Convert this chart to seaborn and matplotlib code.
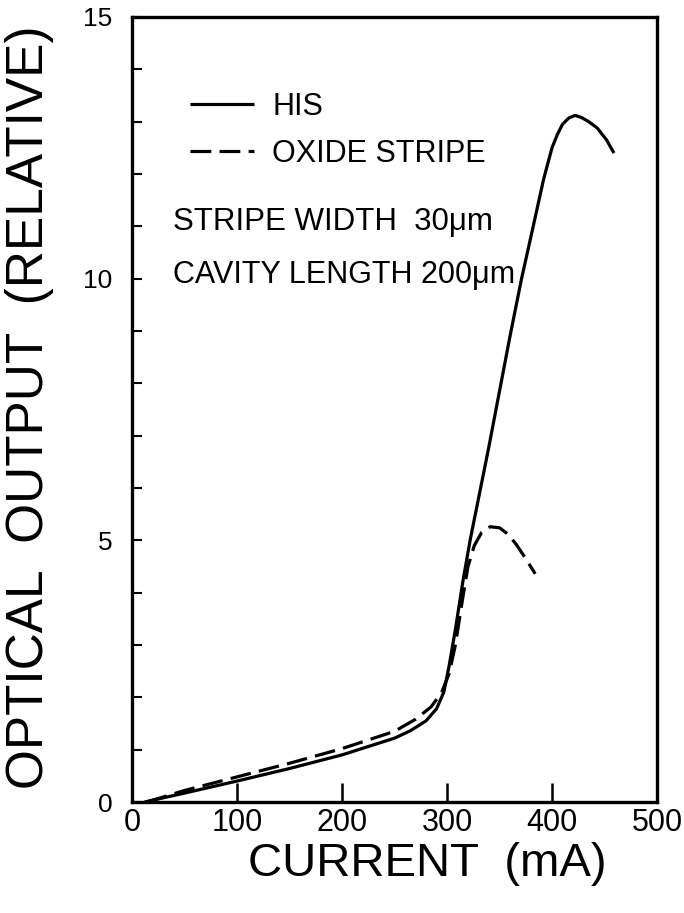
import numpy as np
import pandas as pd
import matplotlib
matplotlib.use("Agg")
import matplotlib.pyplot as plt
import seaborn as sns

# ---- data ----
his_current = [12, 50, 100, 150, 200, 250, 265, 280, 290, 297, 302, 308, 315, 322, 340, 360, 371, 381, 392, 400, 405, 410, 416, 422, 428, 435, 443, 452, 459]
his_output = [0.0, 0.17, 0.40, 0.64, 0.90, 1.22, 1.36, 1.55, 1.78, 2.1, 2.6, 3.3, 4.2, 5.0, 6.8, 8.9, 10.0, 10.9, 11.9, 12.5, 12.75, 12.95, 13.07, 13.12, 13.08, 13.0, 12.88, 12.65, 12.4]

oxide_current = [14, 50, 100, 150, 200, 250, 270, 285, 295, 302, 308, 315, 320, 326, 333, 341, 350, 358, 366, 375, 384]
oxide_output = [0.0, 0.22, 0.48, 0.74, 1.02, 1.35, 1.58, 1.82, 2.1, 2.45, 3.0, 3.9, 4.5, 4.9, 5.15, 5.26, 5.24, 5.12, 4.92, 4.65, 4.36]

series_names = ["HIS", "OXIDE STRIPE"]
x_ticks = [0, 100, 200, 300, 400, 500]
y_major = [0, 5, 10, 15]
y_minor = [0, 1, 2, 3, 4, 5, 6, 7, 8, 9, 10, 11, 12, 13, 14, 15]
x_label = "CURRENT  (mA)"
y_label = "OPTICAL  OUTPUT  (RELATIVE)"
notes = ["STRIPE WIDTH  30\u03bcm", "CAVITY LENGTH 200\u03bcm"]

df = pd.concat([
    pd.DataFrame({"current": his_current, "output": his_output, "type": series_names[0]}),
    pd.DataFrame({"current": oxide_current, "output": oxide_output, "type": series_names[1]}),
])

sns.set_theme(style="ticks")
plt.rcParams["font.family"] = ["Liberation Sans", "DejaVu Sans"]

W, H = 684, 913
fig = plt.figure(figsize=(W / 100, H / 100), dpi=100)
ax = fig.add_axes([132 / W, 1 - 802 / H, (657 - 132) / W, (802 - 17) / H])

sns.lineplot(data=df, x="current", y="output", hue="type", style="type",
             palette=["black", "black"], dashes=[(1, 0), (6.5, 2.6)],
             linewidth=2.3, sort=False, estimator=None, ax=ax, legend=True)
for ln in ax.lines:
    ln.set_solid_joinstyle("round")
    ln.set_dash_joinstyle("round")

ax.set_xlim(0, 500)
ax.set_ylim(0, 15)
ax.set_xticks(x_ticks)
ax.set_xticklabels([str(v) for v in x_ticks])
ax.set_yticks(y_minor)
ax.set_yticklabels([str(v) if v in y_major else "" for v in y_minor])
ax.tick_params(axis="x", direction="in", length=14, width=1.8, labelsize=22, pad=4, colors="black")
ax.tick_params(axis="y", direction="in", length=7, width=1.5, labelsize=19, pad=14, colors="black")
ax.tick_params(top=False, right=False)
for sp in ax.spines.values():
    sp.set_visible(True)
    sp.set_linewidth(2.4)
    sp.set_color("black")
ax.set_xlabel("")
ax.set_ylabel("")

handles, labels = ax.get_legend_handles_labels()
leg = ax.legend(handles, labels, loc="upper left", bbox_to_anchor=(190 / W, 1 - 92 / H),
                bbox_transform=fig.transFigure, frameon=False, fontsize=22,
                handlelength=2.1, handletextpad=0.6, labelspacing=0.55,
                borderpad=0, borderaxespad=0)
for t in leg.get_texts():
    t.set_color("black")

fig.text(173 / W, 1 - 222 / H, notes[0], fontsize=22.5, va="center", ha="left", color="black")
fig.text(173 / W, 1 - 275 / H, notes[1], fontsize=22, va="center", ha="left", color="black")

fig.text(30 / W, 1 - 407 / H, y_label, rotation=90, fontsize=37, va="center", ha="center", color="black")
fig.text(427 / W, 1 - 864 / H, x_label, fontsize=34, va="center", ha="center", color="black")

fig.savefig("out.png", dpi=100, facecolor="white")
